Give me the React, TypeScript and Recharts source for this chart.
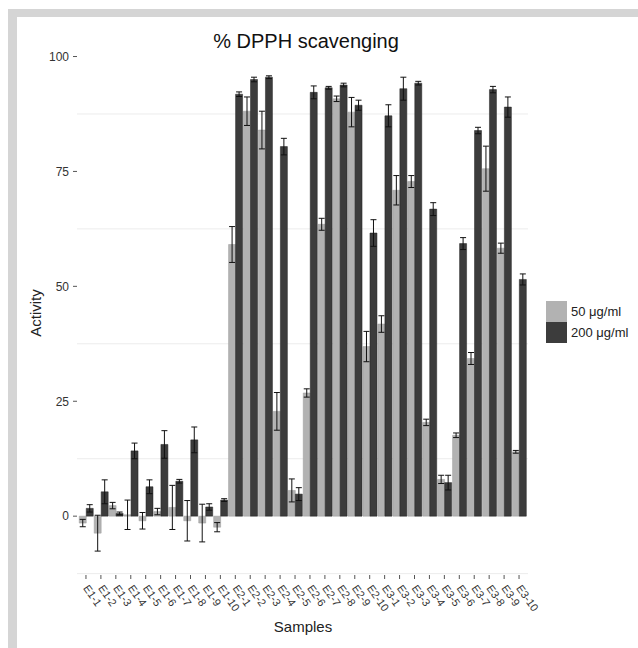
import { BarChart, Bar, XAxis, YAxis, ErrorBar, CartesianGrid } from 'recharts'

const samples = [
  'E1-1', 'E1-2', 'E1-3', 'E1-4', 'E1-5', 'E1-6', 'E1-7', 'E1-8', 'E1-9', 'E1-10',
  'E2-1', 'E2-2', 'E2-3', 'E2-4', 'E2-5', 'E2-6', 'E2-7', 'E2-8', 'E2-9', 'E2-10',
  'E3-1', 'E3-2', 'E3-3', 'E3-4', 'E3-5', 'E3-6', 'E3-7', 'E3-8', 'E3-9', 'E3-10',
]
const act50 = [
  -1.5, -3.7, 2.3, 0.3, -1.0, 1.0, 1.9, -1.0, -1.5, -2.4,
  59.1, 88.1, 84.0, 22.8, 5.6, 26.8, 63.5, 90.8, 87.9, 36.9,
  41.8, 70.9, 72.8, 20.4, 8.0, 17.6, 34.3, 75.6, 58.3, 14.0,
]
const err50 = [
  0.8, 3.9, 0.7, 3.2, 1.8, 0.7, 4.8, 4.4, 4.1, 1.0,
  3.9, 3.1, 4.1, 4.1, 2.5, 0.9, 1.3, 0.6, 3.2, 3.3,
  1.8, 3.2, 1.3, 0.7, 0.9, 0.5, 1.3, 4.9, 1.1, 0.3,
]
const act200 = [
  1.7, 5.3, 0.6, 14.2, 6.4, 15.6, 7.6, 16.6, 2.0, 3.5,
  91.8, 95.0, 95.5, 80.4, 4.8, 92.2, 93.2, 93.8, 89.4, 61.6,
  87.1, 93.0, 94.2, 66.8, 7.3, 59.3, 83.9, 92.8, 89.0, 51.5,
]
const err200 = [
  0.8, 2.6, 0.3, 1.7, 1.5, 3.0, 0.4, 2.8, 0.7, 0.3,
  0.5, 0.5, 0.3, 1.8, 1.4, 1.4, 0.3, 0.4, 1.1, 2.9,
  2.4, 2.5, 0.4, 1.4, 1.6, 1.3, 0.7, 0.7, 2.2, 1.2,
]
const yTicks = [0, 25, 50, 75, 100]
const minorLines = [-12.5, 12.5, 37.5, 62.5, 87.5]
const seriesNames = ['50 μg/ml', '200 μg/ml']
const seriesColors = ['#b2b2b2', '#3c3c3c']

const data = samples.map((name, i) => ({
  name,
  low: act50[i],
  lowErr: err50[i],
  high: act200[i],
  highErr: err200[i],
}))

const font = '"Liberation Sans", Arial, sans-serif'

function SampleTick({ x, y, payload }: any) {
  return (
    <g transform={`translate(${x},${y + 5}) rotate(55)`}>
      <text x={0} y={0} dy="0.35em" textAnchor="start" fontSize={11} fill="#333" fontFamily={font}>
        {payload.value}
      </text>
    </g>
  )
}

export default function App() {
  return (
    <div style={{ position: 'absolute', left: 0, top: 0, width: 638, height: 648, background: '#fff', fontFamily: font }}>
      <div style={{ position: 'absolute', left: 8, top: 9, width: 630, height: 8, background: '#d5d5d5' }} />
      <div style={{ position: 'absolute', left: 8, top: 9, width: 9, height: 639, background: '#d5d5d5' }} />
      <div style={{ position: 'absolute', left: 0, top: 30, width: 612, textAlign: 'center', fontSize: 20, color: '#111' }}>
        % DPPH scavenging
      </div>
      <div style={{ position: 'absolute', left: 0, top: 618, width: 606, textAlign: 'center', fontSize: 15, color: '#222' }}>
        Samples
      </div>
      <div
        style={{
          position: 'absolute', left: 35, top: 313, fontSize: 15, color: '#222', whiteSpace: 'nowrap',
          transform: 'translate(-50%, -50%) rotate(-90deg)',
        }}
      >
        Activity
      </div>
      <div style={{ position: 'absolute', left: 546, top: 301, fontSize: 13, color: '#222' }}>
        {seriesNames.map((n, i) => (
          <div key={n} style={{ display: 'flex', alignItems: 'center', height: 21 }}>
            <div style={{ width: 21, height: 21, background: seriesColors[i] }} />
            <span style={{ marginLeft: 4 }}>{n}</span>
          </div>
        ))}
      </div>
      <div style={{ position: 'absolute', left: 0, top: 0 }}>
        <BarChart
          width={638}
          height={648}
          data={data}
          margin={{ top: 51, right: 110, bottom: 13, left: 0 }}
          barCategoryGap="5%"
          barGap={0}
        >
          <CartesianGrid vertical={false} horizontalValues={minorLines} stroke="#ececec" />
          <XAxis
            dataKey="name"
            interval={0}
            height={60}
            padding={{ left: 1.5, right: 1.5 }}
            axisLine={false}
            tickSize={4}
            tickLine={{ stroke: '#555' }}
            tick={<SampleTick />}
          />
          <YAxis
            type="number"
            width={77}
            domain={[-12.8, 101.2]}
            allowDataOverflow
            ticks={yTicks}
            axisLine={false}
            tickSize={4}
            tickMargin={4}
            tickLine={{ stroke: '#555' }}
            tick={{ fontSize: 12, fill: '#333', fontFamily: font }}
          />
          <Bar dataKey="low" name={seriesNames[0]} fill={seriesColors[0]} stroke="#9a9a9a" strokeWidth={0.5} isAnimationActive={false}>
            <ErrorBar dataKey="lowErr" width={3} stroke="#111" strokeWidth={1} direction="y" isAnimationActive={false} />
          </Bar>
          <Bar dataKey="high" name={seriesNames[1]} fill={seriesColors[1]} stroke="#222" strokeWidth={0.5} isAnimationActive={false}>
            <ErrorBar dataKey="highErr" width={3} stroke="#111" strokeWidth={1} direction="y" isAnimationActive={false} />
          </Bar>
        </BarChart>
      </div>
    </div>
  )
}
